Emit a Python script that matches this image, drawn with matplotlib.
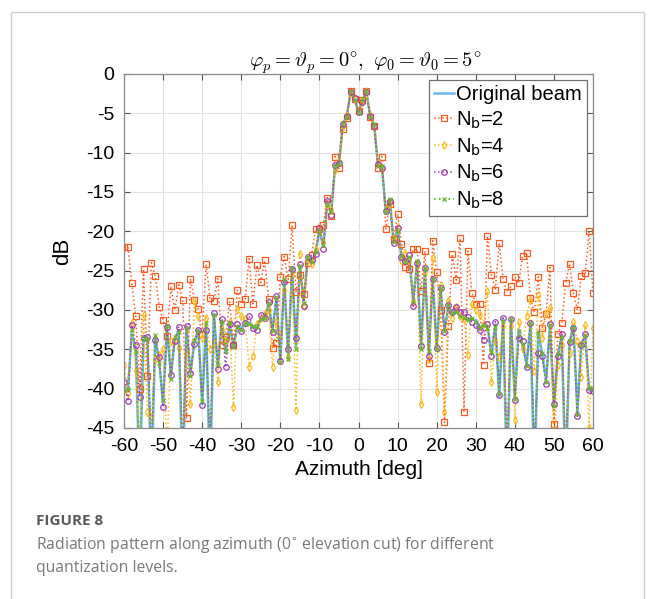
import numpy as np
import matplotlib
matplotlib.use("Agg")
import matplotlib.pyplot as plt
from matplotlib.patches import Rectangle

# ── Data ──────────────────────────────────────────────
azimuth = np.arange(-60, 61)

original_beam = [
    -40.0, -40.2, -32.8, -35.0, -52.0, -33.8, -33.5, -52.0, -33.5, -36.5,
    -42.0, -32.2, -38.4, -33.6, -32.6, -52.0, -32.1, -38.0, -34.1, -32.5,
    -42.0, -31.5, -52.0, -30.5, -37.3, -31.3, -35.5, -31.8, -34.5, -32.3,
    -32.3, -31.8, -31.6, -32.2, -32.0, -31.3, -30.9, -29.3, -32.5, -28.6,
    -36.3, -26.2, -35.9, -24.9, -34.6, -24.5, -28.9, -23.4, -23.8, -22.8,
    -19.8, -21.9, -16.4, -17.7, -11.8, -11.4, -6.3, -5.4, -2.2, -3.2,
    -4.8, -3.4, -2.2, -5.4, -6.5, -11.6, -11.8, -17.5, -16.0, -21.3,
    -19.8, -23.2, -23.8, -23.4, -28.7, -24.0, -34.6, -24.9, -35.5, -26.2,
    -34.6, -27.4, -32.5, -29.6, -30.6, -30.0, -30.9, -30.8, -31.1, -31.2,
    -31.3, -32.5, -31.7, -32.1, -35.7, -31.9, -41.0, -31.2, -52.0, -31.3,
    -41.0, -32.5, -34.5, -36.8, -31.8, -52.0, -32.7, -35.7, -38.9, -32.1,
    -41.9, -35.9, -33.2, -52.0, -34.2, -31.9, -42.9, -34.2, -33.4, -40.2,
    -40.2,
]

nb2 = [
    -22.0, -22.0, -26.6, -30.8, -40.0, -24.8, -38.4, -24.0, -25.7, -29.6,
    -31.3, -33.3, -27.0, -30.0, -26.8, -28.7, -43.7, -26.0, -28.7, -29.9,
    -33.1, -24.2, -28.5, -28.9, -26.0, -34.5, -33.4, -28.9, -34.4, -27.5,
    -29.2, -28.6, -23.5, -29.2, -24.3, -26.5, -23.7, -28.6, -34.8, -34.2,
    -25.8, -23.2, -26.1, -19.2, -27.7, -25.5, -28.0, -24.0, -23.0, -19.7,
    -19.7, -19.2, -15.7, -18.0, -10.5, -12.0, -7.0, -5.6, -2.2, -3.2,
    -4.7, -3.3, -2.2, -5.5, -6.6, -11.9, -10.5, -19.7, -16.5, -21.0,
    -17.8, -21.6, -24.5, -24.8, -22.3, -22.3, -27.6, -22.5, -36.8, -21.2,
    -25.2, -30.0, -44.3, -32.0, -22.9, -26.2, -20.9, -43.0, -22.5, -27.8,
    -29.2, -29.2, -37.0, -20.6, -25.5, -27.4, -21.5, -26.1, -27.7, -27.0,
    -25.8, -26.6, -23.1, -22.8, -28.5, -30.3, -25.8, -32.3, -30.5, -24.6,
    -44.5, -33.0, -31.7, -26.6, -24.1, -27.9, -30.0, -25.7, -25.3, -20.0,
    -27.8,
]

nb4 = [
    -37.0, -40.5, -31.7, -37.8, -46.0, -30.6, -43.0, -43.6, -36.2, -35.7,
    -35.0, -48.0, -34.0, -33.8, -34.8, -47.0, -35.5, -42.0, -28.8, -30.8,
    -33.5, -31.0, -34.9, -34.2, -39.1, -32.5, -34.0, -31.5, -42.3, -29.9,
    -30.8, -31.2, -37.2, -35.9, -31.8, -31.0, -30.5, -30.0, -37.2, -31.5,
    -33.0, -27.5, -36.0, -25.5, -42.7, -22.9, -29.5, -23.6, -24.2, -22.3,
    -19.5, -21.4, -16.8, -17.3, -12.2, -11.0, -6.6, -5.2, -2.4, -3.0,
    -4.6, -3.6, -2.3, -5.2, -6.8, -11.3, -12.1, -17.2, -16.4, -21.0,
    -19.5, -23.6, -22.7, -23.8, -29.0, -24.4, -42.0, -25.3, -36.2, -23.4,
    -40.4, -26.8, -43.0, -28.8, -31.0, -29.6, -30.8, -31.2, -35.7, -29.2,
    -30.0, -30.6, -31.8, -27.6, -39.1, -34.0, -36.0, -32.0, -47.0, -32.0,
    -44.0, -31.5, -35.0, -30.8, -28.7, -37.8, -28.1, -33.5, -30.4, -29.8,
    -48.0, -37.0, -34.5, -49.0, -35.5, -31.5, -34.0, -38.5, -31.9, -45.0,
    -32.3,
]

nb6 = [
    -39.2, -41.6, -31.9, -34.5, -41.0, -33.6, -33.4, -47.5, -33.8, -36.0,
    -42.3, -32.2, -38.3, -33.9, -32.1, -48.0, -32.0, -38.0, -34.3, -32.5,
    -42.1, -32.5, -47.0, -30.4, -37.5, -31.2, -37.3, -31.8, -34.4, -31.8,
    -32.7, -31.6, -30.8, -32.3, -32.5, -30.6, -31.0, -29.0, -32.8, -28.2,
    -36.5, -26.4, -35.0, -24.8, -33.6, -24.2, -29.5, -23.2, -23.6, -22.9,
    -19.6, -22.2, -16.2, -17.9, -11.6, -11.3, -6.4, -5.3, -2.3, -3.1,
    -4.8, -3.5, -2.3, -5.3, -6.6, -11.5, -11.9, -17.4, -16.2, -21.5,
    -19.6, -23.2, -23.8, -23.0, -29.5, -24.0, -34.6, -24.6, -35.8, -26.0,
    -34.8, -27.2, -32.8, -29.4, -30.2, -29.6, -30.2, -30.3, -30.9, -31.5,
    -31.9, -32.6, -33.8, -31.8, -35.8, -31.5, -40.8, -31.0, -48.0, -31.2,
    -41.4, -33.5, -34.0, -37.3, -31.6, -47.5, -35.5, -35.9, -39.4, -31.8,
    -42.0, -35.9, -33.0, -48.5, -34.1, -32.3, -43.5, -34.5, -33.0, -40.2,
    -40.3,
]

nb8 = [
    -40.3, -40.0, -32.6, -35.3, -50.0, -33.6, -33.7, -49.5, -33.2, -36.8,
    -41.5, -32.0, -38.8, -33.4, -32.8, -50.5, -32.3, -38.4, -33.8, -32.7,
    -41.6, -31.7, -50.0, -30.6, -37.0, -31.5, -35.2, -31.6, -34.7, -32.1,
    -32.5, -31.6, -31.8, -32.0, -32.2, -31.1, -31.0, -29.1, -32.7, -28.4,
    -36.6, -26.0, -36.2, -24.7, -34.9, -24.4, -29.1, -23.2, -23.9, -22.6,
    -19.9, -21.7, -16.5, -17.6, -11.7, -11.5, -6.2, -5.5, -2.2, -3.3,
    -4.9, -3.3, -2.2, -5.5, -6.4, -11.7, -11.7, -17.6, -15.9, -21.4,
    -19.9, -23.1, -23.9, -23.2, -28.9, -23.8, -34.9, -24.7, -35.2, -26.0,
    -34.9, -27.2, -32.7, -29.4, -30.4, -30.2, -30.7, -31.0, -31.3, -31.0,
    -31.5, -32.3, -31.9, -32.3, -35.4, -32.1, -40.7, -31.4, -50.5, -31.1,
    -41.3, -32.7, -34.3, -37.1, -31.6, -49.8, -32.9, -35.5, -39.2, -31.9,
    -42.2, -35.6, -33.4, -50.2, -34.0, -32.1, -43.2, -34.4, -33.2, -39.9,
    -39.9,
]

x_ticks = list(range(-60, 61, 10))
y_ticks = list(range(-45, 1, 5))

# ── Style ─────────────────────────────────────────────
plt.rcParams['font.family'] = ['Liberation Sans', 'DejaVu Sans']
plt.rcParams['axes.unicode_minus'] = False

fig = plt.figure(figsize=(6.56, 5.99), dpi=100)

# outer frame of the figure panel
fig.patches.append(Rectangle((11 / 656, -0.05), 633 / 656, 1 - 12 / 599 + 0.05,
                             transform=fig.transFigure, fill=False,
                             edgecolor='#d0d0d0', linewidth=1.0))

ax = fig.add_axes([124 / 656, 1 - 428 / 599, 469 / 656, 354 / 599])

ax.plot(azimuth, original_beam, '-', color='#6cb8ee', lw=1.8, label='Original beam')
ax.plot(azimuth, nb2, ':', color='#ff5a1f', lw=1.1, marker='s', ms=4,
        mfc='none', mew=0.9, label='N$_\\mathsf{b}$=2')
ax.plot(azimuth, nb4, ':', color='#ffb81c', lw=1.1, marker='d', ms=4,
        mfc='none', mew=0.9, label='N$_\\mathsf{b}$=4')
ax.plot(azimuth, nb6, ':', color='#a03cb4', lw=1.1, marker='o', ms=4,
        mfc='none', mew=0.9, label='N$_\\mathsf{b}$=6')
ax.plot(azimuth, nb8, ':', color='#6ab82e', lw=1.3, marker='x', ms=3.5,
        mew=0.9, label='N$_\\mathsf{b}$=8')

ax.set_xlim(-60, 60)
ax.set_ylim(-45, 0)
ax.set_xticks(x_ticks)
ax.set_yticks(y_ticks)
ax.tick_params(direction='in', top=True, right=True, labelsize=14,
               length=4, color='#555555')
ax.tick_params(axis='x', pad=7)
ax.tick_params(axis='y', pad=7)
ax.grid(True, color='#e3e3e3', lw=0.8)
ax.set_axisbelow(True)
for s in ax.spines.values():
    s.set_color('#8a8a8a')
    s.set_linewidth(0.9)

ax.set_xlabel('Azimuth [deg]', fontsize=15, labelpad=4)
ax.set_ylabel('dB', fontsize=16, labelpad=9)
ax.set_title(r'$\varphi_p=\vartheta_p=0^{\circ},\ \varphi_0=\vartheta_0=5^{\circ}$',
             fontsize=14.8, math_fontfamily='cm', pad=5, x=0.515)

leg = ax.legend(loc='upper right', fontsize=14.5, handlelength=1.0,
                handletextpad=0.1, borderpad=0.25, labelspacing=0.27,
                borderaxespad=0.3, fancybox=False, framealpha=1)
leg.get_frame().set_edgecolor('#707070')
leg.get_frame().set_linewidth(0.9)

# ── Caption ───────────────────────────────────────────
fig.text(36 / 656, 1 - 521 / 599, 'FIGURE 8', fontsize=11, fontweight='bold',
         color='#5a5a5a', va='center', family='Open Sans')
fig.text(36 / 656, 1 - 545 / 599,
         'Radiation pattern along azimuth (0$^{\\circ}$ elevation cut) for different',
         fontsize=11.3, color='#7a7a7a', va='center', family='Open Sans')
fig.text(36 / 656, 1 - 568 / 599, 'quantization levels.',
         fontsize=11.3, color='#7a7a7a', va='center', family='Open Sans')

fig.savefig('out.png', dpi=100)
